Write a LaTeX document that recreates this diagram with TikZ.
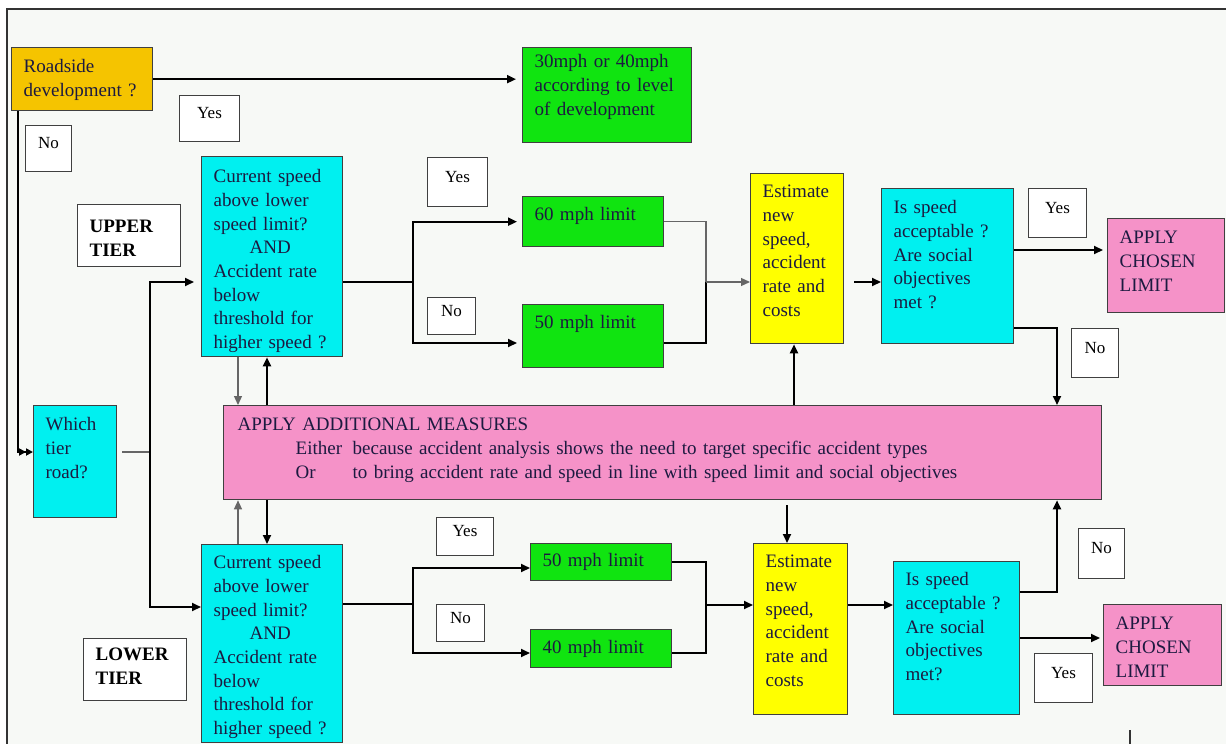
\documentclass[tikz,border=0pt]{standalone}
\usepackage{fontspec}
\setmainfont{Liberation Serif}
\usetikzlibrary{arrows.meta}
\definecolor{pagebg}{RGB}{247,249,246}
\definecolor{roadorange}{RGB}{245,196,0}
\definecolor{limitgreen}{RGB}{16,228,16}
\definecolor{querycyan}{RGB}{0,240,240}
\definecolor{estyellow}{RGB}{255,255,0}
\definecolor{measurepink}{RGB}{245,146,200}
\definecolor{boxtext}{RGB}{28,26,64}
\begin{document}
\begin{tikzpicture}[x=1pt,y=-1pt,
    box/.style={draw=black!75, line width=1.3pt, anchor=north west, align=left,
      inner xsep=12pt, inner ysep=0pt, text=boxtext, text height=13pt,
      font=\fontsize{19}{23.7}\selectfont},
    tierbox/.style={box, fill=white, text=black,
      font=\fontsize{19}{23.7}\selectfont\bfseries},
    answer/.style={draw=black!75, line width=1pt, fill=white, anchor=north west,
      inner sep=0pt, text height=10pt, text depth=10pt,
      font=\fontsize{17}{20}\selectfont},
    flow/.style={line width=2pt, -{Triangle[length=9pt,width=8pt]}},
    thinflow/.style={line width=1.2pt, black!60, -{Triangle[length=9pt,width=8pt]}},
    plain/.style={line width=2pt},
    thinplain/.style={line width=1.2pt, black!60}]
        \useasboundingbox (0,0) rectangle (1226,744);
        % page and frame
        \fill[pagebg] (7,9) rectangle (1226,744);
        \draw[line width=1.5pt, black!80] (7,744) -- (7,9) -- (1226,9);
        \draw[line width=1.5pt, black!80] (1130,730) -- (1130,744);
        % boxes of the top row
        \node[box, fill=roadorange, minimum width=141pt, minimum height=63pt, text width=117pt, text depth=26pt] (roadside) at (11,47) {Roadside\\development ?};
        \node[box, fill=limitgreen, minimum width=169pt, minimum height=95pt, text width=145pt, text depth=68pt] (devlimit) at (522,47) {30mph or 40mph\\according to level\\of development};
        \node[answer, minimum width=60pt, minimum height=46pt] (yesroad) at (179,95) {Yes};
        \node[answer, minimum width=46pt, minimum height=46pt] (noroad) at (25,125) {No};
        % upper tier
        \node[tierbox, minimum width=103pt, minimum height=62pt, text width=79pt, text depth=19pt] (uppertier) at (77,204) {UPPER\\TIER};
        \node[box, fill=querycyan, minimum width=141pt, minimum height=200pt, text width=117pt, text depth=161pt] (upperquery) at (201,156) {Current speed\\above lower\\speed limit?\\\hspace*{36pt}AND\\Accident rate\\below\\threshold for\\higher speed ?};
        \node[answer, minimum width=60pt, minimum height=49pt] (yesupper) at (427,157) {Yes};
        \node[answer, minimum width=48pt, minimum height=37pt] (noupper) at (427,297) {No};
        \node[box, fill=limitgreen, minimum width=141pt, minimum height=50pt, text width=117pt, text depth=15pt] (lim60) at (522,196) {60 mph limit};
        \node[box, fill=limitgreen, minimum width=141pt, minimum height=63pt, text width=117pt, text depth=28pt] (lim50up) at (522,304) {50 mph limit};
        \node[box, fill=estyellow, minimum width=93pt, minimum height=170pt, text width=69pt, text depth=135pt] (upperest) at (750,173) {Estimate\\new\\speed,\\accident\\rate and\\costs};
        \node[box, fill=querycyan, minimum width=132pt, minimum height=155pt, text width=108pt, text depth=118pt] (acceptup) at (881,188) {Is speed\\acceptable ?\\Are social\\objectives\\met ?};
        \node[answer, minimum width=58pt, minimum height=49pt] (yesaccept) at (1028,188) {Yes};
        \node[box, fill=measurepink, minimum width=117pt, minimum height=94pt, text width=93pt, text depth=57pt] (chosenup) at (1107,218) {APPLY\\CHOSEN\\LIMIT};
        \node[answer, minimum width=47pt, minimum height=49pt] (noaccept) at (1071,328) {No};
        % middle row
        \node[box, fill=querycyan, minimum width=83pt, minimum height=112pt, text width=59pt, text depth=75pt] (whichtier) at (33,405) {Which\\tier\\road?};
        \node[box, fill=measurepink, inner xsep=14pt, minimum width=878pt, minimum height=94pt, text width=850pt, text depth=57pt] (measures) at (223,405) {APPLY ADDITIONAL MEASURES\\\hspace*{58pt}\makebox[57pt][l]{Either}because accident analysis shows the need to target specific accident types\\\hspace*{58pt}\makebox[57pt][l]{Or}to bring accident rate and speed in line with speed limit and social objectives};
        % lower tier
        \node[box, fill=querycyan, minimum width=141pt, minimum height=198pt, text width=117pt, text depth=163pt] (lowerquery) at (201,544) {Current speed\\above lower\\speed limit?\\\hspace*{36pt}AND\\Accident rate\\below\\threshold for\\higher speed ?};
        \node[tierbox, minimum width=103pt, minimum height=62pt, text width=79pt, text depth=31pt] (lowertier) at (83,638) {LOWER\\TIER};
        \node[answer, minimum width=57pt, minimum height=38pt] (yeslower) at (436,517) {Yes};
        \node[answer, minimum width=48pt, minimum height=37pt] (nolower) at (436,604) {No};
        \node[box, fill=limitgreen, minimum width=141pt, minimum height=37pt, text width=117pt, text depth=4pt] (lim50lo) at (530,543) {50 mph limit};
        \node[box, fill=limitgreen, minimum width=141pt, minimum height=38pt, text width=117pt, text depth=4pt] (lim40) at (530,629) {40 mph limit};
        \node[box, fill=estyellow, minimum width=94pt, minimum height=171pt, text width=70pt, text depth=136pt] (lowerest) at (753,543) {Estimate\\new\\speed,\\accident\\rate and\\costs};
        \node[box, fill=querycyan, minimum width=126pt, minimum height=153pt, text width=102pt, text depth=118pt] (acceptlo) at (893,561) {Is speed\\acceptable ?\\Are social\\objectives\\met?};
        \node[answer, minimum width=46pt, minimum height=50pt] (noacceptlo) at (1078,528) {No};
        \node[box, fill=measurepink, minimum width=118pt, minimum height=81pt, text width=94pt, text depth=44pt] (chosenlo) at (1103,604) {APPLY\\CHOSEN\\LIMIT};
        \node[answer, minimum width=58pt, minimum height=49pt] (yesacceptlo) at (1034,653) {Yes};
        % coordinates for the connectors
        \coordinate (tierjoin)   at (18,452);
        \coordinate (tiersplit)  at (150,452);
        \coordinate (uppersplit) at (150,282);
        \coordinate (lowersplit) at (150,607);
        \coordinate (leftdown)   at (238,0);
        \coordinate (leftup)     at (267,0);
        \coordinate (upperfork)  at (413,282);
        \coordinate (upperno)    at (413,343);
        \coordinate (uppermerge) at (706,282);
        \coordinate (upperup)    at (794,0);
        \coordinate (upperyes)   at (1013,250);
        \coordinate (upperredo)  at (1057,328);
        \coordinate (lowerfork)  at (413,604);
        \coordinate (loweryes)   at (413,568);
        \coordinate (lowerno)    at (413,653);
        \coordinate (lowermerge) at (706,605);
        \coordinate (lowerdown)  at (787,0);
        \coordinate (lowerredo)  at (1057,592);
        \coordinate (loweraccept) at (1019,638);
        % roadside decision
        \draw[flow, shorten >=6pt] (roadside.east) -- (roadside.east -| devlimit.west);
        \draw[line width=2pt, -{Triangle[length=7pt,width=7pt]Triangle[length=7pt,width=7pt]}] (roadside.south -| tierjoin) -- (tierjoin) -- (tierjoin -| whichtier.west);
        % which tier
        \draw[thinplain, shorten <=5pt] (whichtier.east |- tiersplit) -- (tiersplit);
        \draw[flow, shorten >=7pt] (tiersplit) -- (uppersplit) -- (uppersplit -| upperquery.west);
        \draw[flow] (tiersplit) -- (lowersplit) -- (lowersplit -| lowerquery.west);
        % additional measures
        \draw[thinflow] (upperquery.south -| leftdown) -- (measures.north -| leftdown);
        \draw[flow] (measures.north -| leftup) -- (upperquery.south -| leftup);
        \draw[thinflow] (lowerquery.north -| leftdown) -- (measures.south -| leftdown);
        \draw[flow] (measures.south -| leftup) -- (lowerquery.north -| leftup);
        % upper tier
        \draw[plain] (upperquery.east |- upperfork) -- (upperfork);
        \draw[flow, shorten >=5pt] (upperfork) |- (lim60.west);
        \draw[flow, shorten >=5pt] (upperfork) -- (upperno) -- (upperno -| lim50up.west);
        \draw[thinplain] (lim60.east) -| (uppermerge);
        \draw[plain] (lim50up.east |- upperno) -| (uppermerge);
        \draw[thinflow] (uppermerge) -- (uppermerge -| upperest.west);
        \draw[flow] (measures.north -| upperup) -- (upperest.south -| upperup);
        \draw[flow, shorten <=10pt] (upperest.east |- uppermerge) -- (acceptup.west |- uppermerge);
        \draw[flow, shorten >=4pt] (acceptup.east |- upperyes) -- (upperyes -| chosenup.west);
        \draw[flow] (acceptup.east |- upperredo) -- (upperredo) -- (upperredo |- measures.north);
        % lower tier
        \draw[plain] (lowerquery.east |- lowerfork) -- (lowerfork);
        \draw[flow] (lowerfork) -- (loweryes) -- (loweryes -| lim50lo.west);
        \draw[flow] (lowerfork) -- (lowerno) -- (lowerno -| lim40.west);
        \draw[plain] (lim50lo.east) -| (lowermerge);
        \draw[plain] (lim40.east |- lowerno) -| (lowermerge);
        \draw[flow] (lowermerge) -- (lowermerge -| lowerest.west);
        \draw[flow, shorten <=5pt] (measures.south -| lowerdown) -- (lowerest.north -| lowerdown);
        \draw[flow] (lowerest.east |- lowermerge) -- (acceptlo.west |- lowermerge);
        \draw[flow] (acceptlo.east |- lowerredo) -- (lowerredo) -- (lowerredo |- measures.south);
        \draw[flow, shorten >=3pt] (acceptlo.east |- loweraccept) -- (loweraccept -| chosenlo.west);
\end{tikzpicture}
\end{document}
